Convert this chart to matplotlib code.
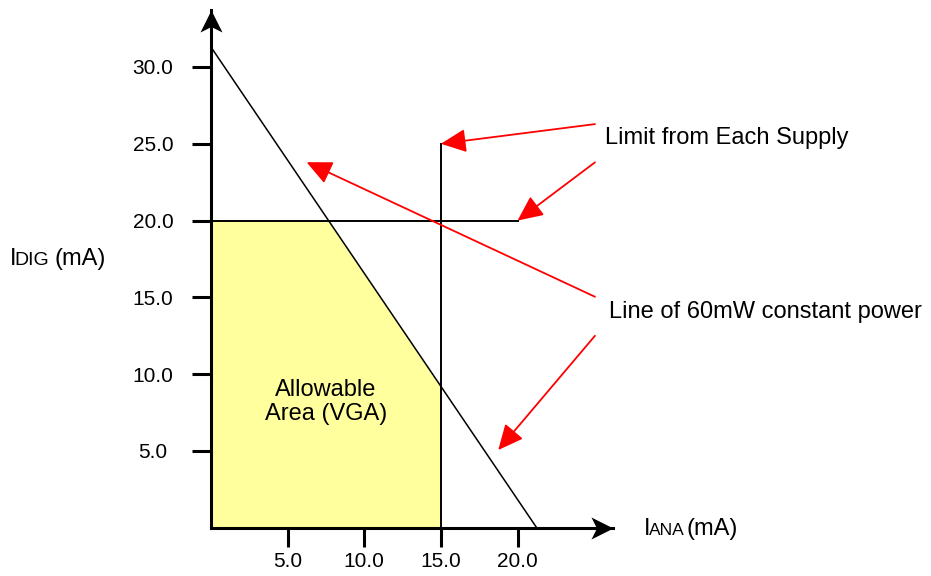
"""
Allowable operating area: analog vs digital supply current (mA).
"""
import matplotlib

matplotlib.use("Agg")
import matplotlib.pyplot as plt
from matplotlib.markers import MarkerStyle
from matplotlib.patches import ArrowStyle
from matplotlib.path import Path
from matplotlib.transforms import Affine2D

plt.rcParams["font.family"] = ["Liberation Sans", "DejaVu Sans"]

# --- data (mA) ---------------------------------------------------------------
X_TICKS = [5.0, 10.0, 15.0, 20.0]
X_LABELS = ["5.0", "10.0", "15.0", "20.0"]
Y_TICKS = [5.0, 10.0, 15.0, 20.0, 25.0, 30.0]
Y_LABELS = ["5.0", "10.0", "15.0", "20.0", "25.0", "30.0"]

ANA_LIMIT = 15.0        # analog supply limit (vertical line)
ANA_LIMIT_TOP = 25.0
DIG_LIMIT = 20.0        # digital supply limit (horizontal line)
DIG_LIMIT_END = 20.0
POWER_X0 = 21.25        # 60 mW constant power line, intercepts
POWER_Y0 = 31.3
X_AXIS_END = 26.2
Y_AXIS_END = 33.7

# red callouts: tail -> head
ARROW_TAILS = [(25.05, 26.28), (25.05, 23.79), (25.05, 15.04), (25.05, 12.5)]
ARROW_HEADS = [(15.0, 25.0), (20.0, 20.0), (6.24, 23.8), (18.74, 5.06)]


def power_line(x):
    return POWER_Y0 * (1 - x / POWER_X0)


fig = plt.figure(figsize=(9.31, 5.76), dpi=100)
ax = fig.add_axes([0, 0, 1, 1])
ax.set_xlim(-13.76, 46.97)
ax.set_ylim(-3.14, 34.36)
ax.patch.set_visible(False)

# allowable region
x_cross = POWER_X0 * (1 - DIG_LIMIT / POWER_Y0)
fill_x = [0, x_cross, ANA_LIMIT]
fill_y = [DIG_LIMIT, DIG_LIMIT, power_line(ANA_LIMIT)]
ax.fill_between(fill_x, 0, fill_y, color="#FFFF9E", lw=0, zorder=1)

# limit lines
ax.plot([0, POWER_X0], [POWER_Y0, 0], color="black", lw=1.1, zorder=2)
ax.plot([ANA_LIMIT, ANA_LIMIT], [0, ANA_LIMIT_TOP], color="black", lw=1.4, zorder=2)
ax.plot([0, DIG_LIMIT_END], [DIG_LIMIT, DIG_LIMIT], color="black", lw=1.4, zorder=2)

# axes as arrows
for side in ("top", "right"):
    ax.spines[side].set_visible(False)
ax.spines["left"].set_position(("data", 0))
ax.spines["bottom"].set_position(("data", 0))
ax.spines["left"].set_bounds(0, Y_AXIS_END)
ax.spines["bottom"].set_bounds(0, X_AXIS_END)
for side in ("left", "bottom"):
    ax.spines[side].set_linewidth(2.2)
    ax.spines[side].set_capstyle("projecting")
    ax.spines[side].set_zorder(3)

head = Path([(0, 0), (-0.5, -1), (0, -0.75), (0.5, -1), (0, 0)],
            [Path.MOVETO, Path.LINETO, Path.LINETO, Path.LINETO, Path.CLOSEPOLY])
ax.plot([0], [Y_AXIS_END], marker=MarkerStyle(head), ms=31.7,
        color="black", mew=0, zorder=4)
ax.plot([X_AXIS_END], [0], marker=MarkerStyle(head, transform=Affine2D().rotate_deg(-90)),
        ms=31.7, color="black", mew=0, zorder=4)

ax.set_xticks(X_TICKS, labels=X_LABELS)
ax.set_yticks(Y_TICKS, labels=Y_LABELS, ha="center")
ax.tick_params(direction="out", length=13.7, width=2.2, labelsize=15, colors="black")
ax.tick_params(axis="x", pad=3.6)
ax.tick_params(axis="y", pad=28.1)

# callout arrows
style = ArrowStyle("-|>", head_length=1.55, head_width=0.72)
for tail, tip in zip(ARROW_TAILS, ARROW_HEADS):
    ax.annotate("", xy=tip, xytext=tail,
                arrowprops=dict(arrowstyle=style, mutation_scale=10, color="red",
                                lw=1.3, shrinkA=0, shrinkB=0),
                zorder=5)

# texts
ax.text(25.7, 25.36, "Limit from Each Supply", fontsize=17, va="center", ha="left")
ax.text(25.96, 14.06, "Line of 60mW constant power", fontsize=17, va="center", ha="left")
ax.text(7.5, 7.01, "Allowable\nArea (VGA)", fontsize=17, ha="center", va="baseline",
        linespacing=1.15, multialignment="center", zorder=3)

# axis titles with small subscripts sitting on the baseline
ax.text(-13.11, 17.10, "I", fontsize=17, va="baseline")
ax.text(-12.79, 17.10, "DIG", fontsize=14, va="baseline")
ax.text(-10.18, 17.10, "(mA)", fontsize=17, va="baseline")
ax.text(28.25, -0.475, "I", fontsize=17, va="baseline")
ax.text(28.57, -0.475, "ANA", fontsize=12.5, va="baseline")
ax.text(31.05, -0.475, "(mA)", fontsize=17, va="baseline")

fig.savefig("out.png", dpi=100, facecolor="white")
plt.close(fig)
